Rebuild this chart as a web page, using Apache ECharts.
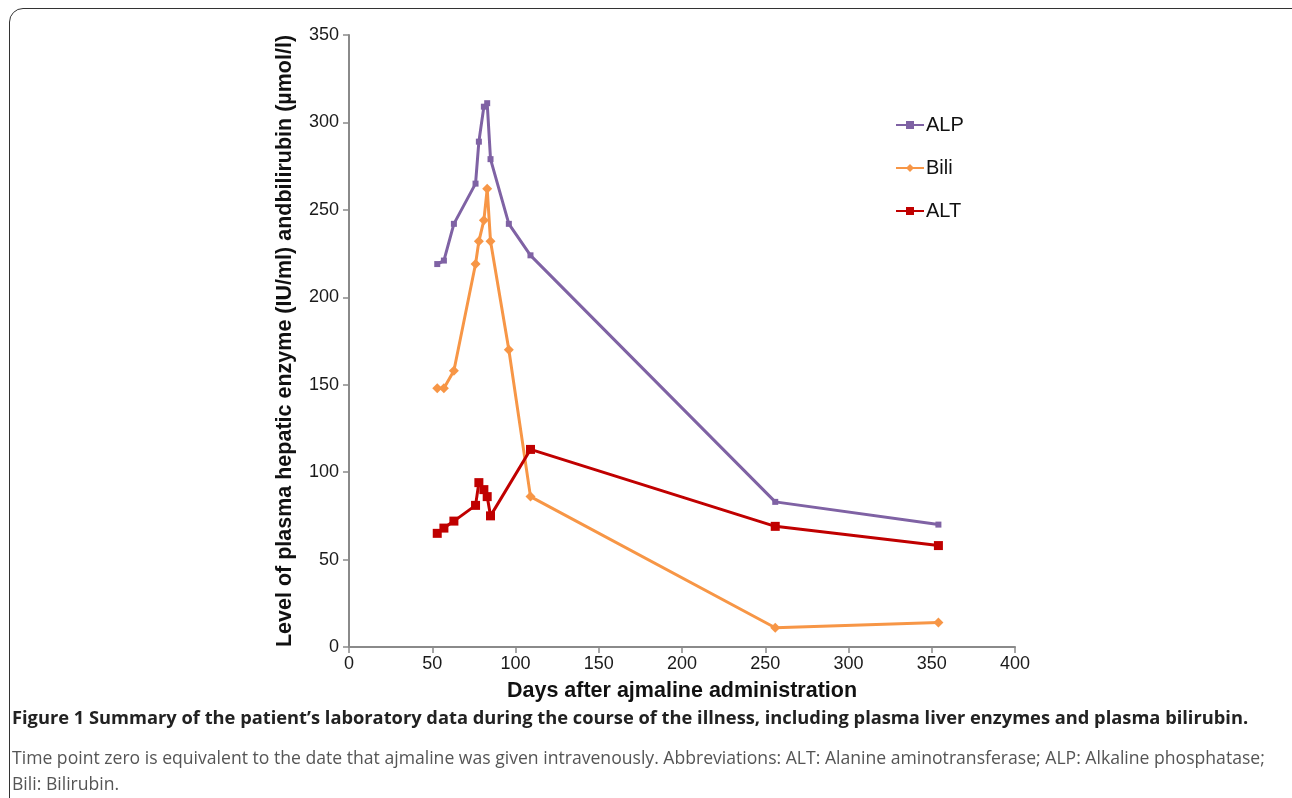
<!DOCTYPE html>
<html><head><meta charset="utf-8">
<script src="https://cdn.jsdelivr.net/npm/echarts@6/dist/echarts.min.js"></script>
<style>
html,body{margin:0;padding:0;width:1292px;height:798px;overflow:hidden;background:#fff;}
#frame{position:absolute;left:9px;top:8px;width:1320px;height:820px;border:1.5px solid #333;border-radius:14px;box-sizing:border-box;}
#chart{position:absolute;left:0;top:0;width:1292px;height:798px;}
#cap{position:absolute;left:12px;top:703px;width:1278px;font-family:"Open Sans",sans-serif;}
#cap .b{font-weight:bold;font-size:18.3px;color:#222;white-space:nowrap;line-height:28px;}
#cap .g{font-size:17.6px;color:#555;line-height:26px;margin-top:13px;}
</style></head><body>
<div id="frame"></div>
<div id="chart"></div>
<div id="cap"><div class="b">Figure 1 Summary of the patient’s laboratory data during the course of the illness, including plasma liver enzymes and plasma bilirubin.</div>
<div class="g">Time point zero is equivalent to the date that ajmaline was given intravenously. Abbreviations: ALT: Alanine aminotransferase; ALP: Alkaline phosphatase; Bili: Bilirubin.</div></div>
<script>
const daysAll = [53, 57, 63, 76, 78, 81, 83, 85, 96, 109, 256, 354];
const alp  = [219, 221, 242, 265, 289, 309, 311, 279, 242, 224, 83, 70];
const bili = [148, 148, 158, 219, 232, 244, 262, 232, 170, 86, 11, 14];
const daysAlt = [53, 57, 63, 76, 78, 81, 83, 85, 109, 256, 354];
const alt  = [65, 68, 72, 81, 94, 90, 86, 75, 113, 69, 58];
const xTicks = [0, 50, 100, 150, 200, 250, 300, 350, 400];
const yTicks = [0, 50, 100, 150, 200, 250, 300, 350];

const pair = (xs, ys) => xs.map((x, i) => [x, ys[i]]);
const chart = echarts.init(document.getElementById('chart'));
const FONT = 'Liberation Sans, Arial, sans-serif';
const axisCommon = {
  axisLine: {show: true, lineStyle: {color: '#8a8a8a', width: 2}},
  axisTick: {show: true, length: 6, lineStyle: {color: '#8a8a8a', width: 1.5}},
  axisLabel: {color: '#1a1a1a', fontSize: 18, fontFamily: FONT, margin: 10},
  splitLine: {show: false}
};
chart.setOption({
  animation: false,
  grid: {left: 349, right: 277, top: 35, bottom: 151},
  xAxis: Object.assign({
    type: 'value', min: xTicks[0], max: xTicks[xTicks.length - 1], interval: 50,
    name: 'Days after ajmaline administration', nameLocation: 'middle', nameGap: 33,
    nameTextStyle: {fontSize: 21.5, fontWeight: 'bold', color: '#111', fontFamily: FONT}
  }, axisCommon, {axisLabel: Object.assign({}, axisCommon.axisLabel, {margin: 8})}),
  yAxis: Object.assign({
    type: 'value', min: yTicks[0], max: yTicks[yTicks.length - 1], interval: 50,
    name: 'Level of plasma hepatic enzyme (IU/ml) andbilirubin (µmol/l)', nameLocation: 'middle', nameGap: 53,
    nameTextStyle: {fontSize: 21.5, fontWeight: 'bold', color: '#111', fontFamily: FONT}
  }, axisCommon),
  legend: {
    orient: 'vertical', left: 890, top: 110, itemGap: 23, itemWidth: 28, itemHeight: 10,
    textStyle: {fontSize: 20, color: '#111', fontFamily: FONT, padding: [0, 0, 0, -3]},
    data: ['ALP', 'Bili', 'ALT']
  },
  series: [
    {name: 'ALP', type: 'line', data: pair(daysAll, alp), symbol: 'rect', symbolSize: 6,
     lineStyle: {color: '#7f62a4', width: 3}, itemStyle: {color: '#7f62a4'}},
    {name: 'Bili', type: 'line', data: pair(daysAll, bili), symbol: 'diamond', symbolSize: 10,
     lineStyle: {color: '#f79646', width: 3}, itemStyle: {color: '#f79646'}},
    {name: 'ALT', type: 'line', data: pair(daysAlt, alt), symbol: 'rect', symbolSize: 9,
     lineStyle: {color: '#c00000', width: 3}, itemStyle: {color: '#c00000'}}
  ]
});
</script>
</body></html>
